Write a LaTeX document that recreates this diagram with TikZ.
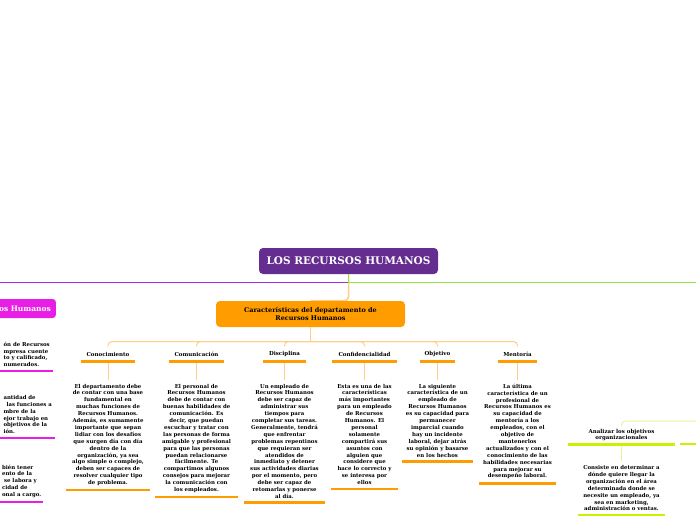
\documentclass[tikz,border=0pt]{standalone}
\usepackage{fontspec}
\setmainfont{DejaVu Serif}
\usetikzlibrary{positioning}

\definecolor{rootpurple}{HTML}{662D91}
\definecolor{linepurple}{HTML}{A52AE8}
\definecolor{leftmagenta}{HTML}{E81EE6}
\definecolor{linegreen}{HTML}{8EE63C}
\definecolor{branchorange}{HTML}{FF9C00}
\definecolor{lightorange}{HTML}{FFCF8A}
\definecolor{limeline}{HTML}{CCF000}
\definecolor{lightlime}{HTML}{E6F59A}

\tikzset{
  rootbox/.style={fill=rootpurple, rounded corners=4pt, text=white,
    font=\fontsize{10.5}{12}\selectfont\bfseries, minimum width=179pt, minimum height=26pt},
  subbox/.style={fill=branchorange, rounded corners=4pt, align=center,
    font=\fontsize{6.5}{7.8}\selectfont\bfseries, minimum width=189pt, minimum height=26pt},
  leftbox/.style={fill=leftmagenta, rounded corners=3pt, text=white, inner xsep=5pt,
    font=\fontsize{7.5}{9}\selectfont\bfseries, minimum height=19pt},
  lbl/.style={font=\fontsize{5.5}{6.6}\selectfont\bfseries, align=center,
    minimum height=15pt, inner sep=0pt},
  desc/.style={font=\fontsize{5.4}{6.9}\selectfont\bfseries, align=center,
    inner xsep=0pt, inner ysep=4pt},
  frag/.style={desc, align=left, anchor=north west},
  ulO/.style={draw=branchorange, line width=2.6pt},
  ulM/.style={draw=leftmagenta, line width=2.6pt},
  ulL/.style={draw=limeline, line width=2.6pt},
  lnO/.style={draw=lightorange, line width=1pt, rounded corners=4pt},
  lnL/.style={draw=lightlime, line width=1pt, rounded corners=4pt},
}

\begin{document}
\begin{tikzpicture}[x=1pt, y=-1pt]
    \useasboundingbox (0,0) rectangle (696,520);
    \clip (0,0) rectangle (696,520);

    % Root and first branches
    \node[rootbox] (root) at (348.5,261) {LOS RECURSOS HUMANOS};
    \node[subbox] (carac) at (310.5,314) {Características del departamento de\\Recursos Humanos};
    \node[leftbox, anchor=east, text width=58pt, align=right] (leftm) at (56,308.5) {os Humanos};
    \coordinate (leftend) at (-20,282.7);
    \coordinate (rightend) at (716,282.7);

    \draw[linepurple, line width=1.5pt] (root.south) |- (leftend);
    \draw[branchorange, opacity=0.5, line width=1.5pt, rounded corners=4pt] (root.south) |- (carac.north);
    \draw[linegreen, line width=1.5pt] (root.south) |- (rightend);

    % Left texts (cut off by the page edge)
    \node[frag, minimum width=53pt] (fragA) at (0,337.6) {ón de Recursos\\mpresa cuente\\to y calificado,\\numerados.};
    \draw[ulM] (fragA.south west) -- (fragA.south east);
    \node[frag, minimum width=55pt] (fragB) at (0,391) {antidad de\\\hspace{3pt}las funciones a\\mbre de la\\ejor trabajo en\\objetivos de la\\ión.};
    \draw[ulM] (fragB.south west) -- (fragB.south east);
    \node[frag, minimum width=43pt] (fragC) at (0,460.5) {bién tener\\ento de la\\\hspace{2pt}se labora y\\cidad de\\onal a cargo.};
    \draw[ulM] (fragC.south west) -- (fragC.south east);

    % Characteristics
    \coordinate (hub) at (310.5,341.5);
    \draw[lnO] (carac.south) -- (hub);

    \node[lbl, minimum width=53pt] (cono) at (108,354) {Conocimiento};
    \node[lbl, minimum width=55pt] (comu) at (196.5,354) {Comunicación};
    \node[lbl, minimum width=42pt] (disc) at (284.5,354) {Disciplina};
    \node[lbl, minimum width=64pt] (conf) at (364.5,354) {Confidencialidad};
    \node[lbl, minimum width=35pt] (obje) at (437.5,354) {Objetivo};
    \node[lbl, minimum width=39pt] (ment) at (517.5,354) {Mentoría};

    \node[desc, below=18pt of cono, minimum width=83pt] (conod) {El departamento debe\\de contar con una base\\fundamental en\\muchas funciones de\\Recursos Humanos.\\Además, es sumamente\\importante que sepan\\lidiar con los desafíos\\que surgen día con día\\dentro de la\\organización, ya sea\\algo simple o complejo,\\deben ser capaces de\\resolver cualquier tipo\\de problema.};
    \node[desc, below=18pt of comu, minimum width=83pt] (comud) {El personal de\\Recursos Humanos\\debe de contar con\\buenas habilidades de\\comunicación. Es\\decir, que puedan\\escuchar y tratar con\\las personas de forma\\amigable y profesional\\para que las personas\\puedan relacionarse\\fácilmente. Te\\compartimos algunos\\consejos para mejorar\\la comunicación con\\los empleados.};
    \node[desc, below=18pt of disc, minimum width=80pt] (discd) {Un empleado de\\Recursos Humanos\\debe ser capaz de\\administrar sus\\tiempos para\\completar sus tareas.\\Generalmente, tendrá\\que enfrentar\\problemas repentinos\\que requieran ser\\atendidos de\\inmediato y detener\\sus actividades diarias\\por el momento, pero\\debe ser capaz de\\retomarlas y ponerse\\al día.};
    \node[desc, below=18pt of conf, minimum width=67pt] (confd) {Esta es una de las\\características\\más importantes\\para un empleado\\de Recursos\\Humanos. El\\personal\\solamente\\compartirá sus\\asuntos con\\alguien que\\considere que\\hace lo correcto y\\se interesa por\\ellos};
    \node[desc, below=18pt of obje, minimum width=70pt] (objed) {La siguiente\\característica de un\\empleado de\\Recursos Humanos\\es su capacidad para\\permanecer\\imparcial cuando\\hay un incidente\\laboral, dejar atrás\\su opinión y basarse\\en los hechos};
    \node[desc, below=18pt of ment, minimum width=77pt] (mentd) {La última\\característica de un\\profesional de\\Recursos Humanos es\\su capacidad de\\mentoría a los\\empleados, con el\\objetivo de\\mantenerlos\\actualizados y con el\\conocimiento de las\\habilidades necesarias\\para mejorar su\\desempeño laboral.};

    \foreach \k in {cono,comu,disc,conf,obje,ment}{
      \draw[lnO] (hub) -| (\k.north);
      \draw[lnO] (\k.south) -- (\k d.north);
      \draw[ulO] (\k.south west) -- (\k.south east);
      \draw[ulO] (\k d.south west) -- (\k d.south east);
    }

    % Right branch
    \coordinate (rhub) at (716,421);
    \node[lbl, minimum width=107pt, minimum height=18pt] (anal) at (621.5,435) {Analizar los objetivos\\organizacionales};
    \node[desc, below=17pt of anal, minimum width=87pt] (anald) {Consiste en determinar a\\dónde quiere llegar la\\organización en el área\\determinada donde se\\necesite un empleado, ya\\sea en marketing,\\administración o ventas.};
    \draw[lnL] (rhub) -| (anal.north);
    \draw[lnL] (anal.south) -- (anald.north);
    \draw[ulL] (anal.south west) -- (anal.south east);
    \draw[ulL] (anald.south west) -- (anald.south east);
    \draw[ulL] (680,444) -- (716,444);
\end{tikzpicture}
\end{document}
